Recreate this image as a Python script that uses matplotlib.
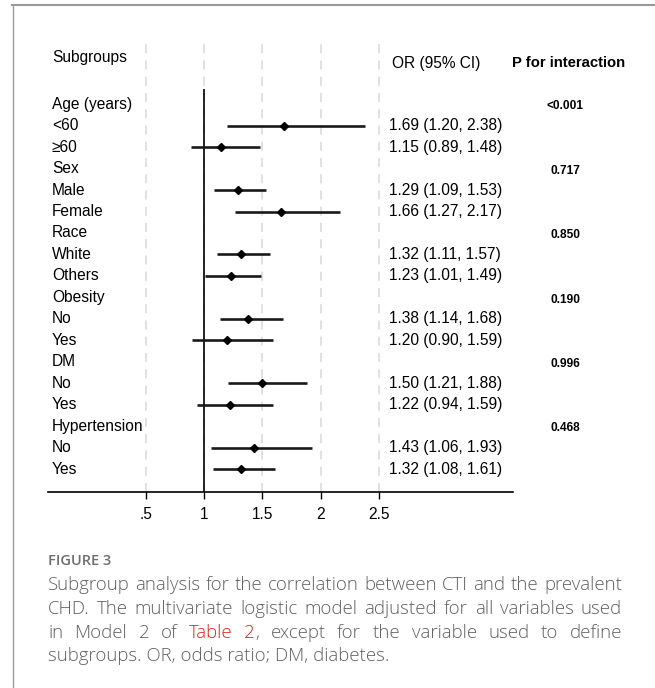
import matplotlib
matplotlib.use("Agg")
import matplotlib.pyplot as plt
from matplotlib.lines import Line2D

# subgroup rows, top to bottom (None = group header row)
labels = ["Age (years)", "<60", "≥60", "Sex", "Male", "Female", "Race", "White", "Others",
          "Obesity", "No", "Yes", "DM", "No", "Yes", "Hypertension", "No", "Yes"]
odds = [None, 1.69, 1.15, None, 1.29, 1.66, None, 1.32, 1.23,
        None, 1.38, 1.20, None, 1.50, 1.22, None, 1.43, 1.32]
ci_low = [None, 1.20, 0.89, None, 1.09, 1.27, None, 1.11, 1.01,
          None, 1.14, 0.90, None, 1.21, 0.94, None, 1.06, 1.08]
ci_high = [None, 2.38, 1.48, None, 1.53, 2.17, None, 1.57, 1.49,
           None, 1.68, 1.59, None, 1.88, 1.59, None, 1.93, 1.61]
p_rows = [0, 3, 6, 9, 12, 15]
p_vals = ["<0.001", "0.717", "0.850", "0.190", "0.996", "0.468"]
xticks = [0.5, 1, 1.5, 2, 2.5]
xticklabels = [".5", "1", "1.5", "2", "2.5"]

W, H = 655, 688
fam = ["Liberation Sans", "DejaVu Sans"]

fig = plt.figure(figsize=(W / 100, H / 100), dpi=100)
ax = fig.add_axes([48 / W, 1 - 492 / H, (513 - 48) / W, (492 - 42) / H])
ax.set_xlim(-0.339, 3.652)
ax.set_ylim(18.07, -2.9)

# dashed grid + reference line at OR = 1
for t in xticks:
    ax.axvline(t, color="#dedede", lw=1.3, ls=(0, (5, 4)), zorder=0)
ax.vlines(1, -0.7, 18.07, color="black", lw=1.2, zorder=2)

for i, lab in enumerate(labels):
    ax.text(-0.305, i, lab, va="center", ha="left", fontsize=11.2, family=fam)
    if odds[i] is None:
        continue
    ax.hlines(i, ci_low[i], ci_high[i], color="#1a1a1a", lw=1.9, zorder=3)
    ax.plot(odds[i], i, "D", ms=4.3, color="black", zorder=4)
    ax.text(2.588, i, f"{odds[i]:.2f} ({ci_low[i]:.2f}, {ci_high[i]:.2f})",
            va="center", ha="left", fontsize=11.2, family=fam)

for r, p in zip(p_rows, p_vals):
    ax.text(4.10, r + 0.1, p, va="center", ha="center", fontsize=8.6,
            fontweight="bold", family=fam, clip_on=False)

ax.text(-0.305, -2.19, "Subgroups", va="center", ha="left", fontsize=11.2, family=fam)
ax.text(2.99, -1.91, "OR (95% CI)", va="center", ha="center", fontsize=11.2, family=fam)
ax.text(3.644, -1.91, "P for interaction", va="center", ha="left", fontsize=10.7,
        fontweight="bold", family=fam, clip_on=False)

for s in ["top", "left", "right"]:
    ax.spines[s].set_visible(False)
ax.spines["bottom"].set_linewidth(1.2)
ax.set_yticks([])
ax.set_xticks(xticks, xticklabels, fontsize=11.2, family=fam)
ax.tick_params(axis="x", length=5, width=1, pad=6)

# panel frame (top and left edges only)
fig.add_artist(Line2D([12 / W, 1], [1 - 5 / H, 1 - 5 / H], transform=fig.transFigure,
                      color="#9a9a9a", lw=1.5))
fig.add_artist(Line2D([12.5 / W, 12.5 / W], [0, 1 - 5 / H], transform=fig.transFigure,
                      color="#9a9a9a", lw=1.0))

# caption
cap_col = "#5f6062"
red = "#e2231a"
fig.text(48 / W, 1 - 565 / H, "FIGURE 3", ha="left", va="baseline", fontsize=10.5,
         fontweight="semibold", family=["Open Sans", "DejaVu Sans"], color="#6d6e71")

cap_font = dict(fontsize=13.4, family=["Open Sans", "DejaVu Sans"], fontweight="light")


def plain(s):
    return [[(w, cap_col)] for w in s.split()]


caption = [
    (plain("Subgroup analysis for the correlation between CTI and the prevalent"), True),
    (plain("CHD. The multivariate logistic model adjusted for all variables used"), True),
    (plain("in Model 2 of") + [[("Table", red)], [("2", red), (",", cap_col)]]
     + plain("except for the variable used to define"), True),
    ([[("subgroups. OR, odds ratio; DM, diabetes.", cap_col)]], False),
]
cap_base = [590, 614, 638, 661]
x0, x1 = 48, 622
renderer = fig.canvas.get_renderer()

for (words, justify), y in zip(caption, cap_base):
    items = []
    for word in words:
        parts = []
        for txt, col in word:
            t = fig.text(x0 / W, 1 - y / H, txt, color=col, ha="left", va="baseline", **cap_font)
            parts.append((t, t.get_window_extent(renderer).width))
        items.append(parts)
    if not justify:
        continue
    widths = [sum(w for _, w in p) for p in items]
    gap = (x1 - x0 - sum(widths)) / (len(items) - 1)
    x = x0
    for parts, wsum in zip(items, widths):
        xx = x
        for t, w in parts:
            t.set_x(xx / W)
            xx += w
        x += wsum + gap

fig.savefig("out.png", dpi=100)
